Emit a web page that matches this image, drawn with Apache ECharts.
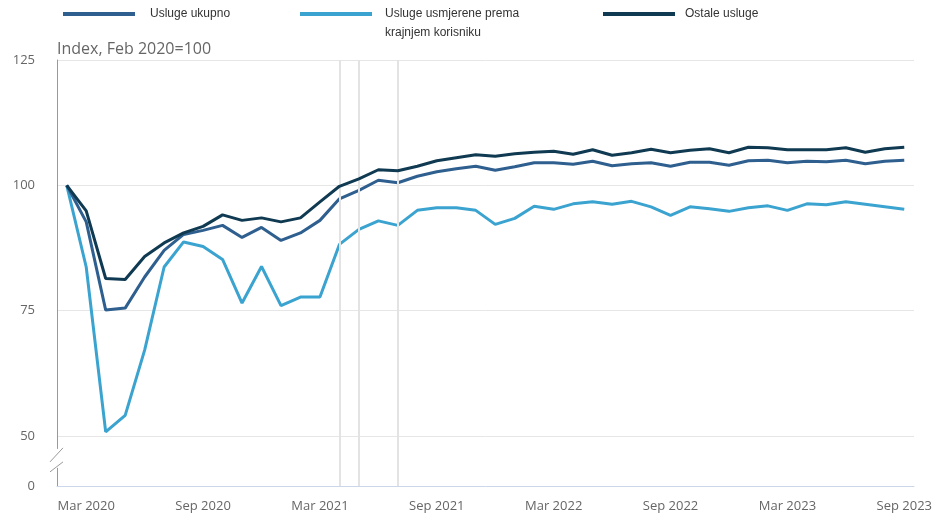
<!DOCTYPE html>
<html>
<head>
<meta charset="utf-8">
<script src="https://cdn.jsdelivr.net/npm/echarts@6/dist/echarts.min.js"></script>
<style>
  html, body { margin: 0; padding: 0; background: #fff; }
  #chart { width: 937px; height: 516px; }
</style>
</head>
<body>
<div id="chart"></div>
<script>
// mjeseci od Feb 2020 do Sep 2023
var monthNames = ['Jan', 'Feb', 'Mar', 'Apr', 'May', 'Jun', 'Jul', 'Aug', 'Sep', 'Oct', 'Nov', 'Dec'];
var months = [];
for (var y = 2020; y <= 2023; y++) {
  for (var m = 0; m < 12; m++) {
    if (y === 2020 && m < 1) continue;
    if (y === 2023 && m > 8) continue;
    months.push(monthNames[m] + ' ' + y);
  }
}

var uslugeUkupno = [
  100, 92.7, 75.1, 75.5, 81.7, 87.0, 90.2, 91.0, 92.0, 89.6, 91.6, 89.0,
  90.5, 93.0, 97.3, 99.0, 101.0, 100.5, 101.8, 102.7, 103.3, 103.8,
  103.0, 103.7, 104.5, 104.5, 104.2, 104.8, 103.9, 104.3, 104.5, 103.8,
  104.6, 104.6, 104.0, 104.9, 105.0, 104.5, 104.8, 104.7, 105.0, 104.3,
  104.8, 105.0
];
var uslugeKorisnik = [
  100, 83.7, 50.8, 54.1, 67.1, 83.7, 88.7, 87.8, 85.2, 76.5, 83.8, 76.0,
  77.7, 77.7, 88.2, 91.2, 92.9, 92.0, 95.0, 95.5, 95.5, 95.0,
  92.2, 93.4, 95.8, 95.2, 96.3, 96.7, 96.2, 96.8, 95.7, 94.0,
  95.7, 95.3, 94.8, 95.5, 95.9, 95.0, 96.3, 96.1, 96.7, 96.2,
  95.7, 95.2
];
var ostaleUsluge = [
  100, 94.9, 81.4, 81.2, 85.8, 88.5, 90.5, 91.8, 94.1, 93.0, 93.5, 92.7,
  93.5, 96.7, 99.8, 101.3, 103.1, 102.9, 103.8, 104.9, 105.5, 106.1,
  105.8, 106.3, 106.6, 106.8, 106.2, 107.1, 106.0, 106.5, 107.2, 106.5,
  107.0, 107.3, 106.5, 107.6, 107.5, 107.1, 107.1, 107.1, 107.5, 106.6,
  107.3, 107.6
];
var plotLineMonths = ['Apr 2021', 'May 2021', 'Jul 2021'];
var yTickLabels = [50, 75, 100, 125];

var chart = echarts.init(document.getElementById('chart'));
var font = '"Open Sans", sans-serif';
var transparent = 'rgba(0,0,0,0)';

function legendFor(name, left, top, pad) {
  return {
    data: [name],
    left: left,
    top: top,
    padding: 0,
    icon: 'rect',
    itemWidth: 72,
    itemHeight: 4,
    selectedMode: false,
    textStyle: {
      fontFamily: '"Liberation Sans", sans-serif',
      fontSize: 12,
      color: '#333',
      lineHeight: 19,
      padding: pad
    },
    formatter: function (n) {
      // prazan prvi red da prvi red teksta stoji uz liniju
      return n === 'Usluge usmjerene prema krajnjem korisniku'
        ? '\nUsluge usmjerene prema\nkrajnjem korisniku' : n;
    }
  };
}

var option = {
  animation: false,
  title: {
    text: 'Index, Feb 2020=100',
    left: 52,
    top: 36,
    textStyle: { fontFamily: font, fontSize: 16, fontWeight: 'normal', color: '#666' }
  },
  legend: [
    legendFor('Usluge ukupno', 63, 4.5, [0, 0, 0, 10]),
    legendFor('Usluge usmjerene prema krajnjem korisniku', 300, -14.5, [0, 0, 0, 8]),
    legendFor('Ostale usluge', 603, 4.5, [0, 0, 0, 5])
  ],
  grid: { left: 57, right: 23, top: 60, bottom: 30, containLabel: false },
  xAxis: {
    type: 'category',
    data: months,
    boundaryGap: true,
    axisLine: { lineStyle: { color: '#ccd6eb' } },
    axisTick: {
      alignWithLabel: true,
      length: 10,
      interval: function (i) { return i % 6 === 1; },
      lineStyle: { color: '#ccd6eb' }
    },
    axisLabel: {
      interval: function (i) { return i % 6 === 1; },
      margin: 14,
      fontFamily: font,
      fontSize: 13,
      color: '#666'
    },
    splitLine: { show: false }
  },
  yAxis: {
    type: 'value',
    min: 40,
    max: 125,
    interval: 5,
    axisLine: { show: true, lineStyle: { color: '#999' } },
    axisTick: { show: false },
    axisLabel: {
      margin: 22,
      fontFamily: font,
      fontSize: 13,
      color: '#666',
      formatter: function (v) {
        if (v === 40) return '0';
        return yTickLabels.indexOf(v) >= 0 ? String(v) : '';
      }
    },
    splitLine: {
      lineStyle: { color: [transparent, transparent, '#e6e6e6', transparent, transparent], width: 1 }
    }
  },
  series: [
    {
      name: 'plotlines',
      type: 'line',
      data: [],
      z: 1,
      silent: true,
      markLine: {
        symbol: 'none',
        silent: true,
        label: { show: false },
        lineStyle: { color: '#e3e3e3', width: 2, type: 'solid' },
        data: plotLineMonths.map(function (m) { return { xAxis: m }; })
      }
    },
    {
      name: 'Usluge usmjerene prema krajnjem korisniku',
      type: 'line',
      data: uslugeKorisnik,
      showSymbol: false,
      color: '#3ba3cf',
      lineStyle: { width: 3, color: '#3ba3cf' },
      z: 3
    },
    {
      name: 'Usluge ukupno',
      type: 'line',
      data: uslugeUkupno,
      showSymbol: false,
      color: '#2e5f8f',
      lineStyle: { width: 3, color: '#2e5f8f' },
      z: 4
    },
    {
      name: 'Ostale usluge',
      type: 'line',
      data: ostaleUsluge,
      showSymbol: false,
      color: '#0f3a52',
      lineStyle: { width: 3, color: '#0f3a52' },
      z: 5
    }
  ]
};

chart.setOption(option);

// prekid osi (izmedju 0 i 50)
var p50 = chart.convertToPixel({ yAxisIndex: 0 }, 50);
var gx = 57;
chart.setOption({
  graphic: [
    { type: 'rect', shape: { x: gx - 4, y: p50 + 13, width: 8, height: 19 }, style: { fill: '#fff' }, z: 100 },
    { type: 'line', shape: { x1: gx - 7, y1: p50 + 26, x2: gx + 6, y2: p50 + 12 }, style: { stroke: '#999', lineWidth: 1 }, z: 101 },
    { type: 'line', shape: { x1: gx - 7, y1: p50 + 36, x2: gx + 6, y2: p50 + 26 }, style: { stroke: '#999', lineWidth: 1 }, z: 101 }
  ]
});
</script>
</body>
</html>
